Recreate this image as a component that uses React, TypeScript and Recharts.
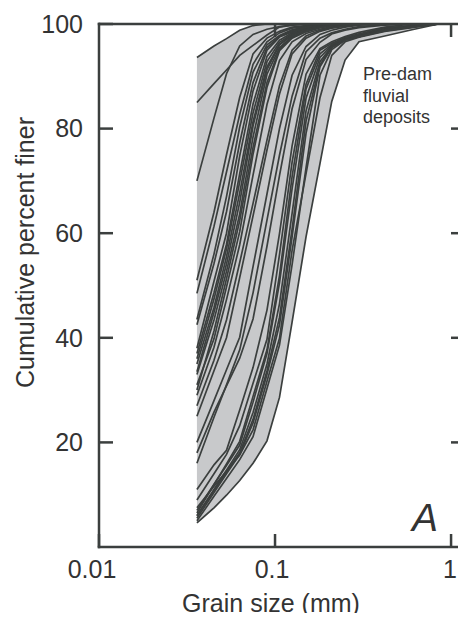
import { ComposedChart, Line, Area, XAxis, YAxis, Label, ReferenceLine } from 'recharts';

// sieve sizes (mm) shared by every sample
const grainSizes = [0.036, 0.045, 0.053, 0.063, 0.075, 0.09, 0.106, 0.125, 0.15, 0.18, 0.21, 0.25, 0.3, 0.42, 0.6, 0.85];

// cumulative percent finer, one array per sample
const s01 = [93.6, 95.8, 97.2, 98.8, 99.7, 100, 100, 100, 100, 100, 100, 100, 100, 100, 100, 100];
const s02 = [85, 88.6, 91.2, 94, 95.9, 97.9, 99.4, 99.8, 100, 100, 100, 100, 100, 100, 100, 100];
const s03 = [70, 82, 90.5, 95.8, 98, 99, 99.5, 99.8, 100, 100, 100, 100, 100, 100, 100, 100];
const s04 = [51, 64, 75, 86, 94.3, 97.3, 98.6, 99.4, 99.7, 100, 100, 100, 100, 100, 100, 100];
const s05 = [48.5, 61.3, 71.7, 82.7, 92.3, 96.6, 98.3, 99.2, 99.6, 99.9, 100, 100, 100, 100, 100, 100];
const s06 = [43.5, 56, 67, 80.3, 90.8, 96, 97.8, 98.9, 99.5, 99.8, 100, 100, 100, 100, 100, 100];
const s07 = [42.5, 54.2, 64.1, 77.3, 88.8, 95.5, 97.6, 98.7, 99.4, 99.8, 100, 100, 100, 100, 100, 100];
const s08 = [38, 50.8, 60, 74.8, 87.2, 95, 97.5, 98.5, 99.3, 99.7, 100, 100, 100, 100, 100, 100];
const s09 = [37, 48.6, 57.9, 71.4, 84.7, 93.8, 96.9, 98.3, 99.1, 99.6, 99.9, 100, 100, 100, 100, 100];
const s10 = [36, 47.4, 57, 69.8, 83, 92.8, 96.5, 98.1, 99, 99.6, 99.9, 100, 100, 100, 100, 100];
const s11 = [35, 45.8, 55.5, 67.7, 81.3, 91.8, 96.1, 97.9, 98.9, 99.5, 99.8, 100, 100, 100, 100, 100];
const s12 = [33.5, 44.9, 54.1, 65.9, 80.5, 91.3, 96, 97.9, 98.9, 99.5, 99.8, 100, 100, 100, 100, 100];
const s13 = [33, 43.4, 52.7, 63.7, 78.4, 90.4, 95.5, 97.6, 98.7, 99.4, 99.8, 100, 100, 100, 100, 100];
const s14 = [31, 39.8, 49.7, 60.3, 75.1, 87.9, 94.9, 97.3, 98.5, 99.3, 99.7, 100, 100, 100, 100, 100];
const s15 = [30, 41.3, 51.3, 62.4, 76.4, 88.8, 95.2, 97.5, 98.6, 99.3, 99.7, 99.9, 100, 100, 100, 100];
const s16 = [29, 38.2, 47.3, 57.8, 71.1, 84.6, 93, 96.6, 98.2, 99, 99.5, 99.8, 100, 100, 100, 100];
const s17 = [27, 35.7, 43.4, 54.4, 65.7, 77.8, 88.2, 95, 97.7, 98.8, 99.3, 99.7, 100, 100, 100, 100];
const s18 = [25, 33.7, 40, 51.5, 63.3, 75.9, 86.6, 94.3, 97.3, 98.6, 99.2, 99.6, 99.9, 100, 100, 100];
const s19 = [20, 28, 33.9, 40.1, 53.6, 67.5, 80, 90.2, 95.7, 98, 98.8, 99.4, 99.8, 100, 100, 100];
const s20 = [18, 25.8, 30.8, 36.1, 43.6, 57.5, 71, 83.8, 93.2, 96.5, 98.1, 98.8, 99.3, 99.8, 100, 100];
const s21 = [16, 24.8, 31, 37.7, 48.6, 62.5, 74.9, 86.2, 94.7, 97.3, 98.3, 99, 99.5, 99.9, 100, 100];
const s22 = [11, 15.7, 18.5, 26.2, 34.3, 45.3, 59.9, 76.7, 90.4, 95.3, 96.6, 97.6, 98.4, 99.4, 100, 100];
const s23 = [9, 14, 17.7, 23.2, 31.3, 39.7, 55.9, 73.6, 88.5, 95, 96.3, 97.4, 98.1, 99.2, 99.7, 100];
const s24 = [7.5, 11.6, 14.5, 17.6, 22.4, 31.7, 39.9, 56.7, 71.4, 85.9, 94, 96.6, 97.5, 98.6, 99.3, 100];
const s25 = [7, 12, 15.6, 19.5, 27.7, 37, 50.5, 68.5, 85.8, 93.6, 95.9, 97.2, 97.9, 99.1, 99.6, 100];
const s26 = [6.5, 11.9, 15.9, 20.2, 28.8, 37.7, 51.9, 70.8, 87.6, 94.3, 96.1, 97.3, 98, 99.1, 99.7, 100];
const s27 = [6, 11, 14.7, 18.6, 25.7, 35, 46.5, 63.8, 83.4, 92.8, 95.7, 97, 97.7, 99, 99.6, 100];
const s28 = [6, 10.8, 14.4, 18, 24.4, 33.7, 43.9, 60.8, 81.4, 92.2, 95.6, 97, 97.6, 98.9, 99.5, 100];
const s29 = [5.5, 10.4, 14, 17.7, 23.7, 33, 42.5, 59.3, 79.1, 91.8, 95.5, 97, 97.6, 98.9, 99.5, 100];
const s30 = [5, 9.7, 13.1, 16.7, 21.1, 30.3, 38.6, 54, 72.5, 90.2, 95.1, 96.9, 97.6, 98.7, 99.4, 100];
const s31 = [4.6, 7.5, 9.9, 12.7, 16, 20.3, 28.6, 43, 59.3, 73.3, 85.2, 93.1, 96.6, 97.7, 98.9, 100];

const samples = [s01, s02, s03, s04, s05, s06, s07, s08, s09, s10, s11, s12, s13, s14, s15, s16,
  s17, s18, s19, s20, s21, s22, s23, s24, s25, s26, s27, s28, s29, s30, s31];

const xTicks = [0.01, 0.1, 1];
const yTicks = [20, 40, 60, 80, 100];
const xMax = 1.2;

const data = grainSizes.map((size, i) => {
  const vals = samples.map((s) => s[i]);
  const row: Record<string, any> = { size, band: [Math.min(...vals), Math.max(...vals)] };
  vals.forEach((v, k) => (row['s' + k] = v));
  return row;
});

const ink = '#3b3f3e';
const font = '"Liberation Sans", Arial, Helvetica, sans-serif';
const frame = { stroke: ink, strokeWidth: 2.5, strokeLinecap: 'square' as const };
const labelStyle = { fontSize: 25, fill: '#333', fontFamily: font };
const TICK = 14;

// ticks point into the plot on every side
function LeftTick({ x, y, payload }: any) {
  return (
    <g>
      <line x1={x} x2={x + TICK} y1={y} y2={y} stroke={ink} strokeWidth={2.5} />
      <text x={x - 16} y={y} dy='0.355em' textAnchor='end' style={labelStyle}>
        {payload.value}
      </text>
    </g>
  );
}

const xLabelShift = [-7, -3, -1];
function BottomTick({ x, y, payload, index }: any) {
  return (
    <g>
      <line x1={x} x2={x} y1={y} y2={y - 13} stroke={ink} strokeWidth={2.5} />
      <text x={x + (xLabelShift[index] ?? 0)} y={y + 31} textAnchor='middle' style={labelStyle}>
        {String(payload.value)}
      </text>
    </g>
  );
}

// mirrored ticks along the right edge (horizontal reference line, only its last 14px drawn)
function rightTick(p: any) {
  const xr = Math.max(p.x1, p.x2);
  return <line x1={xr} x2={xr - TICK} y1={p.y1} y2={p.y1} stroke={ink} strokeWidth={2.5} />;
}

// mirrored ticks along the top edge
function topTick(p: any) {
  const yt = Math.min(p.y1, p.y2);
  return <line x1={p.x1} x2={p.x1} y1={yt} y2={yt + 13} stroke={ink} strokeWidth={2.5} />;
}

export default function App() {
  return (
    <div style={{ position: 'relative', width: 458, height: 613, marginBottom: -8, fontFamily: font }}>
      <ComposedChart width={458} height={613} data={data} margin={{ top: 16, right: 1, bottom: 0, left: 0 }}>
        <XAxis
          dataKey='size'
          type='number'
          scale='log'
          domain={[0.01, xMax]}
          allowDataOverflow
          ticks={xTicks}
          interval={0}
          height={74}
          axisLine={frame}
          tickLine={false}
          tickSize={0}
          tickMargin={0}
          tick={BottomTick}
        >
          <Label value='Grain size (mm)' position='insideBottom' offset={9.5} dx={-11} style={labelStyle} />
        </XAxis>
        <YAxis
          domain={[0, 100]}
          ticks={yTicks}
          interval={0}
          width={91}
          axisLine={frame}
          tickLine={false}
          tickSize={0}
          tickMargin={0}
          tick={LeftTick}
        >
          <Label value='Cumulative percent finer' angle={-90} position='center' dx={-28.5} dy={-33} style={labelStyle} />
        </YAxis>
        <Area dataKey='band' type='linear' fill='#c8c9cb' fillOpacity={1} stroke='none' isAnimationActive={false} />
        {samples.map((_, k) => (
          <Line
            key={k}
            dataKey={'s' + k}
            type='linear'
            stroke={ink}
            strokeWidth={1.7}
            dot={false}
            activeDot={false}
            isAnimationActive={false}
          />
        ))}
        {/* top and right sides of the frame */}
        <ReferenceLine y={100} stroke={ink} strokeWidth={2.5} strokeLinecap='square' ifOverflow='visible' />
        <ReferenceLine x={xMax} stroke={ink} strokeWidth={2.5} strokeLinecap='square' ifOverflow='visible' />
        {[20, 40, 60, 80].map((v) => (
          <ReferenceLine key={'r' + v} y={v} shape={rightTick} />
        ))}
        {[0.1, 1].map((v) => (
          <ReferenceLine key={'t' + v} x={v} shape={topTick} />
        ))}
      </ComposedChart>
      <div style={{ position: 'absolute', left: 355, top: 56, fontSize: 18, lineHeight: '21.5px', color: '#333' }}>
        Pre-dam
        <br />
        fluvial
        <br />
        deposits
      </div>
      <div style={{ position: 'absolute', left: 404, top: 490, fontSize: 39, lineHeight: '39px', fontStyle: 'italic', color: '#333' }}>
        A
      </div>
    </div>
  );
}
